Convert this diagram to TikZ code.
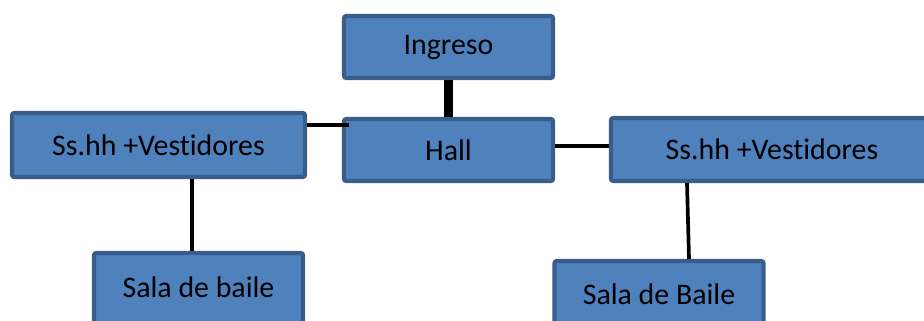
\documentclass[tikz,border=0pt]{standalone}
\usepackage{fontspec}
\setmainfont[Ligatures={NoCommon,NoRequired,NoContextual},RawFeature={-liga;-clig}]{Carlito}
\usepackage{xcolor}
\usetikzlibrary{positioning,calc}
\definecolor{boxfill}{HTML}{4F81BD}
\definecolor{boxline}{HTML}{385D8A}
\tikzset{
  room/.style={draw=boxline,fill=boxfill,line width=1.15pt,rounded corners=0.6pt,
               minimum width=2.09cm,minimum height=0.62cm,inner sep=0pt,
               font=\fontsize{8.5}{10}\selectfont},
  link/.style={line width=1.05pt,black},
  mainlink/.style={line width=2.5pt,black},
}
\newcommand{\vestid}{Ss.hh +Vest\kern0pt idores}
\begin{document}
\begin{tikzpicture}[x=1cm,y=-1cm]
  \useasboundingbox (0,0) rectangle (9.24,3.20);
  % ===== central column =====
  \node[room] (ingreso) at (4.485,0.47){\raisebox{-0.5mm}{Ingreso}};
  \node[room] (hall) at (4.485,1.50){Hall};
  % ===== side wings =====
  \node[room,minimum width=2.93cm,minimum height=0.64cm] (ssl) at (1.585,1.45){\vestid};
  \node[room,minimum width=3.22cm,minimum height=0.63cm] (ssr) at (7.72,1.495){\vestid};
  \node[room,minimum height=0.76cm] (salal) at (1.985,2.91){\raisebox{0.8mm}{Sala de baile}};
  \node[room,minimum height=0.76cm] (salar) at (6.59,2.99){\raisebox{0.9mm}{Sala de Baile}};
  % connectors
  \draw[mainlink] (ingreso) -- (hall);
  \draw[link] ([yshift=2mm]ssl.east) -- ([xshift=0.7mm,yshift=2.5mm]hall.west);
  \draw[link] ([yshift=0.4mm]hall.east) -- ([yshift=0.35mm]ssr.west);
  \draw[link] ([xshift=-0.65mm]salal.north) -- ([xshift=-0.65mm]salal.north |- ssl.south);
  \draw[link] ([xshift=-8.5mm]ssr.south) -- ([xshift=3mm]salar.north);
\end{tikzpicture}
\end{document}
